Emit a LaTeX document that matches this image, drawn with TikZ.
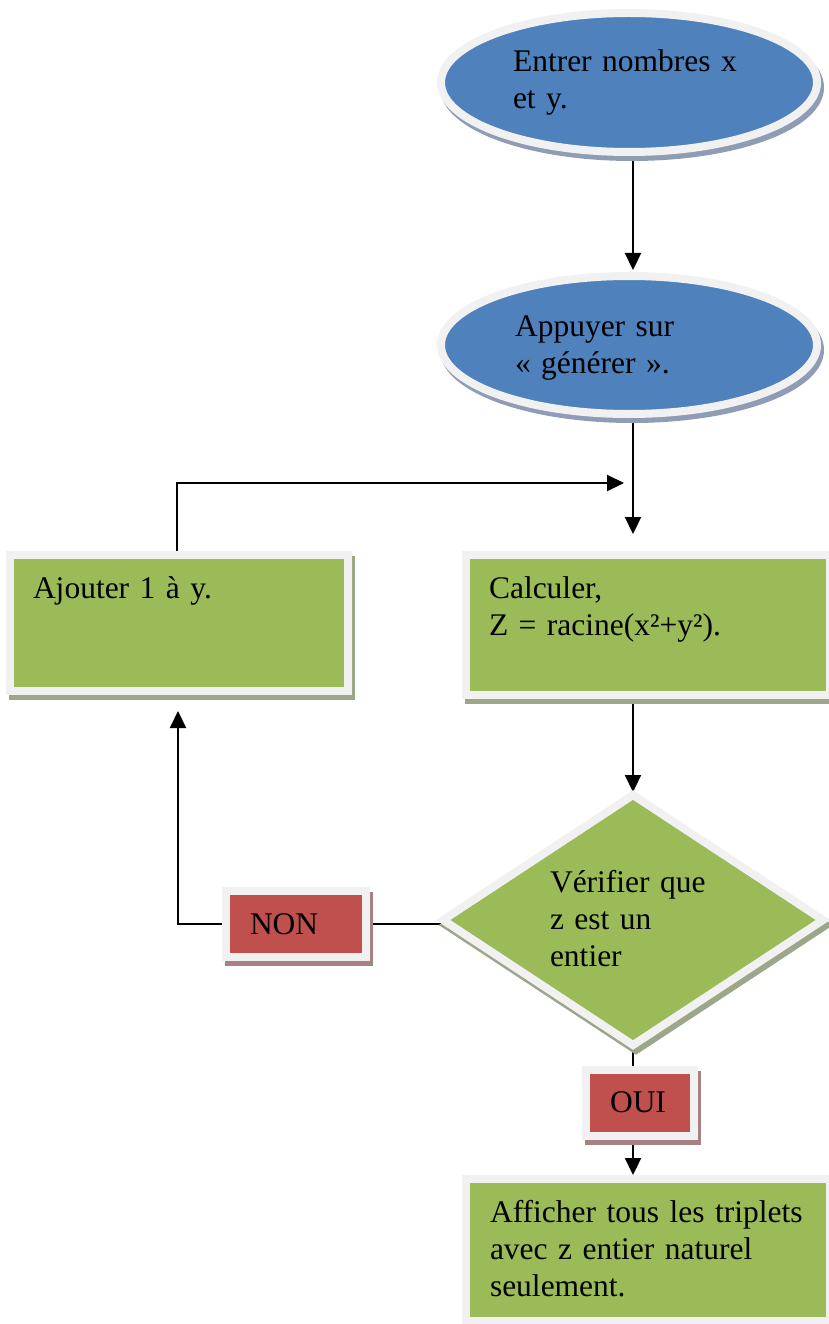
\documentclass[tikz,border=0pt]{standalone}
\usepackage{fontspec}
\setmainfont{Liberation Serif}
\usetikzlibrary{arrows.meta,shapes.geometric,backgrounds,calc}
\definecolor{fblue}{HTML}{4F81BD}
\definecolor{fgreen}{HTML}{9BBB59}
\definecolor{fred}{HTML}{C0504D}
\definecolor{rimc}{HTML}{F1F1F1}
\definecolor{shblue}{HTML}{8E9DB5}
\definecolor{shgreen}{HTML}{9CA78A}
\definecolor{shred}{HTML}{A88282}
\begin{document}
\begin{tikzpicture}[x=1pt,y=-1pt,
  base/.style={draw=rimc, line width=8pt, inner sep=0pt, outer sep=0pt},
  withshadow/.style={preaction={fill=#1, draw=#1, line width=8pt, transform canvas={shift={(3pt,-5pt)}}}},
  oval/.style={base, ellipse, fill=fblue, withshadow=shblue},
  gbox/.style={base, rectangle, fill=fgreen, withshadow=shgreen},
  rbox/.style={base, rectangle, fill=fred, withshadow=shred},
  gdia/.style={base, diamond, fill=fgreen, withshadow=shgreen},
  txt/.style={anchor=base west, inner sep=0pt, outer sep=0pt, text width=330pt, align=left,
    font=\fontsize{31.5}{37}\selectfont},
  conn/.style={draw=black, line width=2.2pt},
  arr/.style={conn, -{Triangle[length=17pt,width=16pt]}}
]
\useasboundingbox (0,0) rectangle (829,1324);

% shapes
\node[oval, minimum width=376pt, minimum height=139pt] (e1) at (629,82.5) {};
\node[oval, minimum width=376pt, minimum height=138pt] (e2) at (629,345) {};
\node[gbox, minimum width=338pt, minimum height=136pt] (aj) at (179,623) {};
\node[gbox, minimum width=364pt, minimum height=140pt] (calc) at (648,625) {};
\node[gdia, minimum width=380pt, minimum height=250pt] (dia) at (633,920) {};
\node[rbox, minimum width=140pt, minimum height=66pt] (non) at (296,924) {};
\node[rbox, minimum width=108pt, minimum height=66pt] (oui) at (640,1103) {};
\node[gbox, minimum width=364pt, minimum height=142pt] (aff) at (648,1250) {};

% texts
\node[txt] (t1) at (513,72) {Entrer nombres x\\et y.};
\node[txt] (t2) at (515,336) {Appuyer sur\\« générer ».};
\node[txt] (t3) at (33,598) {Ajouter 1 à y.};
\node[txt] (t4) at (489,598) {Calculer,\\Z = racine(x²+y²).};
\node[txt] (t5) at (550,892) {Vérifier que\\z est un\\entier};
\node[txt] (t6) at (250,934) {NON};
\node[txt] (t7) at (610,1112) {OUI};
\node[txt] (t8) at (490,1222) {Afficher tous les triplets\\avec z entier naturel\\seulement.};

\coordinate (loopend) at (624,483);

% connectors
\begin{scope}[on background layer]
\draw[arr, shorten >=6pt] (e1.south -| dia.north) -- (e2.north -| dia.north);
\draw[arr, shorten >=21pt] (e2.south -| dia.north) -- (calc.north -| dia.north);
\draw[arr] ([xshift=-2pt]aj.north) |- (loopend);
\draw[arr, shorten >=3pt] (calc.south -| dia.north) -- (dia.north);
\draw[conn] (non.east) -- (non.east -| dia.west);
\draw[arr] (non.west) -| ([xshift=-1pt,yshift=-20pt]aj.south);
\draw[conn] (dia.south) -- (dia.south |- oui.north);
\draw[arr, shorten >=4pt] (oui.south -| dia.south) -- (aff.north -| dia.south);
\end{scope}
\end{tikzpicture}
\end{document}
